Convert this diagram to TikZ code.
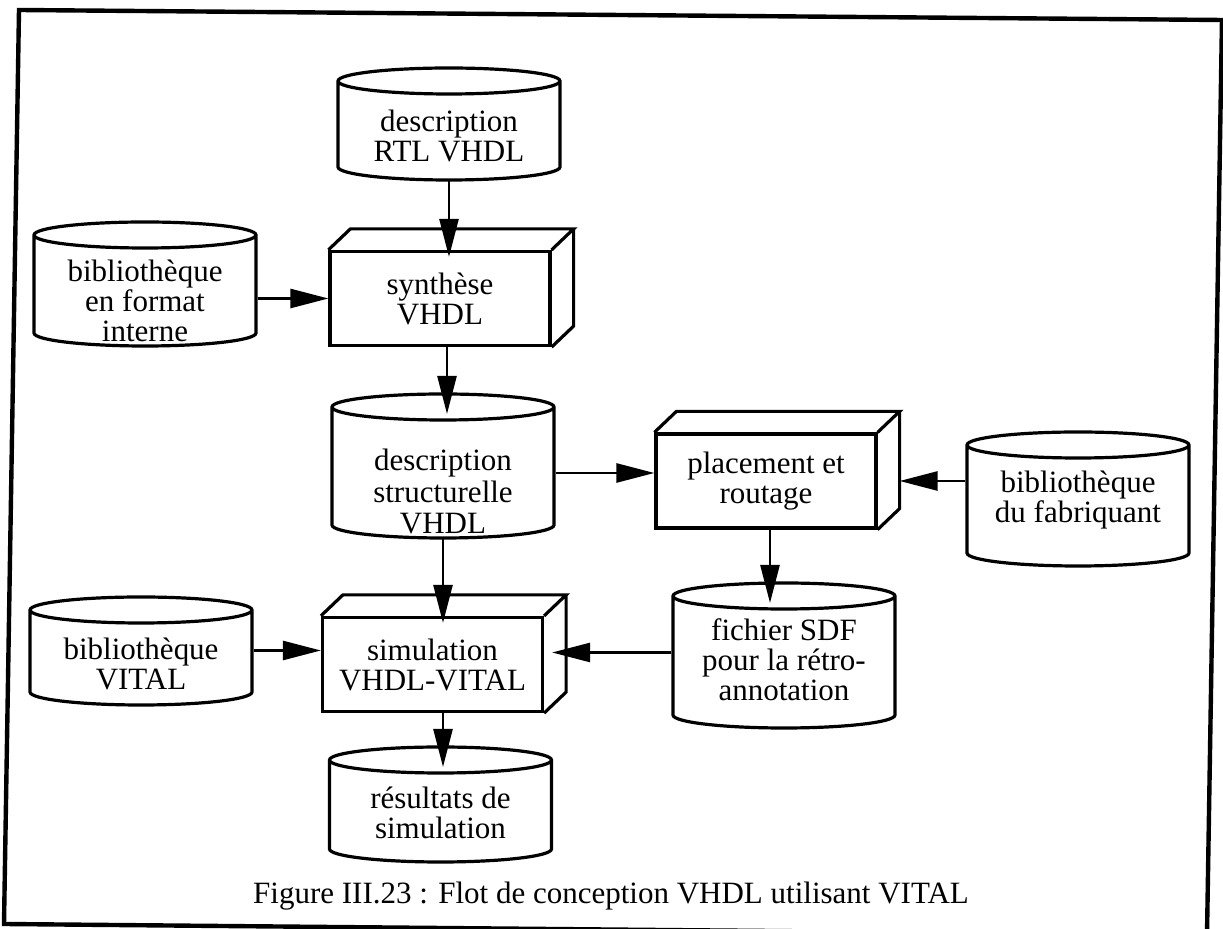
\documentclass[tikz,border=0pt]{standalone}
\usepackage{fontspec}
\setmainfont{Liberation Serif}
\usetikzlibrary{arrows.meta,calc}
\begin{document}
\begin{tikzpicture}[x=0.5pt,y=-0.5pt,
  font=\fontsize{15.5pt}{15pt}\selectfont,
  outline/.style={line width=1.6pt},
  arr/.style={line width=1.3pt,-{Triangle[length=19pt,width=9.5pt]}},
  % database cylinder around the node text: #1 = distance up to the lid, #2 = distance down to the base
  db/.style 2 args={inner sep=0pt, minimum width=111pt, align=center,
    append after command={
      \pgfextra{\let\dbn\tikzlastnode}
      ([shift={(-111,13-#1)}]\dbn.center) -- ([shift={(-111,#2-13)}]\dbn.center)
        arc[start angle=180, end angle=360, x radius=55.5pt, y radius=6.5pt]
        -- ([shift={(111,13-#1)}]\dbn.center)
        arc[start angle=0, end angle=180, x radius=55.5pt, y radius=6.5pt]
        arc[start angle=180, end angle=360, x radius=55.5pt, y radius=6.5pt]
      ([shift={(0,-#1)}]\dbn.center) coordinate (\dbn-top)
      ([shift={(0,#2)}]\dbn.center) coordinate (\dbn-bot)
    }},
  % processing step drawn as a box in perspective
  box3d/.style={draw, line width=1.6pt, inner sep=0pt, minimum width=110pt,
    minimum height=47pt, align=center,
    append after command={
      \pgfextra{\let\bxn\tikzlastnode}
      (\bxn.north west) -- ++(22,-21) -- ([shift={(22,-21)}]\bxn.north east) -- (\bxn.north east)
      ([shift={(22,-21)}]\bxn.north east) -- ([shift={(22,-21)}]\bxn.south east) -- (\bxn.south east)
    }}]
\useasboundingbox (0,0) rectangle (1223,929);

% outer frame
\draw[line width=2.2pt] (19,10) -- (1222,20) -- (1207,935) -- (4,924) -- cycle;

% data stores
\draw[outline] (449,136) node[db={68}{44}] (rtl) {description\\RTL VHDL};
\draw[outline] (145,301) node[db={79}{45}] (interne) {bibliothèque\\en format\\interne};
\draw[outline] (443,491.5) node[db={97.5}{46.5}] (struct) {description\\[0.75pt]structurelle\\[0.75pt]VHDL};
\draw[outline] (1078,500) node[db={68}{66}] (fab) {bibliothèque\\du fabriquant};
\draw[outline] (784,659.5) node[db={76.5}{68.5}] (sdf) {fichier SDF\\pour la rétro-\\annotation};
\draw[outline] (141,664) node[db={67}{41}] (vital) {bibliothèque\\VITAL};
\draw[outline] (440.5,812.5) node[db={65.5}{49.5}] (res) {résultats de\\simulation};

% processing steps
\draw[outline] (440,298.5) node[box3d] (synth) {synthèse\\VHDL};
\draw[outline] (766,481) node[box3d] (place) {placement et\\routage};
\draw[outline] (432.5,664.5) node[box3d] (sim) {simulation\\VHDL-VITAL};

% flow
\draw[arr,shorten >=-3.5pt] (rtl-bot) -- (rtl-bot |- synth.north);
\draw[arr] (synth.west -| interne.east) -- (synth.west);
\draw[arr,shorten >=-10pt] ($(synth.south)+(7,0)$) -- ($(synth.south |- struct-top)+(7,0)$);
\draw[arr] ($(place.west -| struct.east)+(0,-8)$) -- ($(place.west)+(0,-8)$);
\draw[arr,shorten >=11pt] (place.east -| fab.west) -- (place.east);
\draw[arr,shorten >=-10pt] ($(place.south)+(4,0)$) -- ($(place.south |- sdf-top)+(4,0)$);
\draw[arr,shorten >=-3.5pt] (struct-bot) -- (struct-bot |- sim.north);
\draw[arr] ($(sim.west -| vital.east)+(0,-14)$) -- ($(sim.west)+(0,-14)$);
\draw[arr,shorten >=4pt] ($(sdf.west)+(0,-7)$) -- ($(sdf.west -| sim.east)+(0,-7)$);
\draw[arr,shorten >=-10pt] ($(sim.south)+(10.5,0)$) -- ($(sim.south |- res-top)+(10.5,0)$);

% caption
\node (caption) at (611,896) {Figure III.23 : Flot de conception VHDL utilisant VITAL};
\end{tikzpicture}
\end{document}
